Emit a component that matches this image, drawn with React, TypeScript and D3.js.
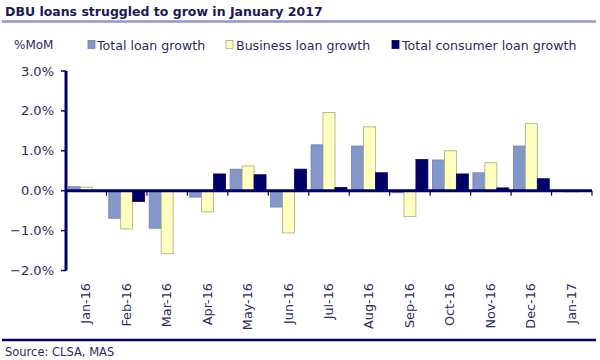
import React from "react";
import * as d3 from "d3";

const categories = ["Jan-16","Feb-16","Mar-16","Apr-16","May-16","Jun-16","Jul-16","Aug-16","Sep-16","Oct-16","Nov-16","Dec-16","Jan-17"];
const totalLoan = [0.10,-0.69,-0.94,-0.16,0.54,-0.41,1.15,1.12,-0.05,0.77,0.45,1.12,-0.01];
const businessLoan = [0.09,-0.96,-1.58,-0.53,0.62,-1.06,1.96,1.60,-0.65,1.00,0.70,1.68,-0.03];
const consumerLoan = [0.01,-0.27,0.0,0.42,0.40,0.54,0.08,0.45,0.78,0.42,0.07,0.30,0.0];
const seriesNames = ["Total loan growth","Business loan growth","Total consumer loan growth"];
const yTicks = [3,2,1,0,-1,-2];

const colors = ["#8497c9","#ffffc0","#000066"];
const strokes = ["#7080b8","#a8a880","#000066"];
const navy = "#000066";
const textColor = "#2a2a62";

export default function App() {
  const W = 600, H = 360;
  const x0 = 66, x1 = 592;
  const y = d3.scaleLinear().domain([-2, 3]).range([270.5, 71]);
  const x = d3.scaleBand<string>().domain(categories).range([x0, x1]).paddingInner(0).paddingOuter(0);
  const inner = d3.scaleBand<number>().domain([0,1,2]).range([0, x.bandwidth()]).paddingOuter(0.19).paddingInner(0);
  const series = [totalLoan, businessLoan, consumerLoan];
  const font = "'DejaVu Sans', Verdana, sans-serif";

  return (
    <svg width={W} height={H} style={{ position: "absolute", left: 0, top: 0, background: "#fff" }} fontFamily={font}>
      <text x={5} y={16} fontSize={12.5} fontWeight="bold" fill="#1a1a5a">DBU loans struggled to grow in January 2017</text>
      <line x1={2} x2={596} y1={21.5} y2={21.5} stroke="#8d97c8" strokeWidth={2.5} />
      <text x={14} y={49} fontSize={12} fill={textColor}>%MoM</text>
      {[{sx: 88, tx: 97}, {sx: 226, tx: 236}, {sx: 392, tx: 402}].map((p, i) => (
        <g key={i}>
          <rect x={p.sx} y={40.5} width={7} height={8} fill={colors[i]} stroke={strokes[i]} strokeWidth={0.8} />
          <text x={p.tx} y={49.5} fontSize={12.6} fill={textColor}>{seriesNames[i]}</text>
        </g>
      ))}
      {series.map((vals, si) => (
        <g key={si}>
          {vals.map((v, ci) => {
            const bx = (x(categories[ci]) as number) + (inner(si) as number);
            const top = y(Math.max(0, v));
            const h = Math.abs(y(v) - y(0));
            return <rect key={ci} x={bx} y={top} width={inner.bandwidth()} height={h} fill={colors[si]} stroke={strokes[si]} strokeWidth={0.8} />;
          })}
        </g>
      ))}
      {/* x axis */}
      <line x1={x0} x2={x1} y1={y(0)} y2={y(0)} stroke={navy} strokeWidth={3} />
      {categories.map((c, i) => (
        <line key={c} x1={(x(c) as number) + x.bandwidth()} x2={(x(c) as number) + x.bandwidth()} y1={y(0)} y2={y(0) + 5} stroke={navy} strokeWidth={1.2} />
      ))}
      {/* y axis */}
      <line x1={x0} x2={x0} y1={y(3)} y2={y(-2)} stroke={navy} strokeWidth={3} />
      {yTicks.map(t => (
        <g key={t}>
          <line x1={x0 - 5} x2={x0} y1={y(t)} y2={y(t)} stroke={navy} strokeWidth={1.5} />
          <text x={54} y={y(t) + 4.5} fontSize={13} textAnchor="end" fill={textColor}>{d3.format(".1f")(t) + "%"}</text>
        </g>
      ))}
      {categories.map(c => {
        const cx = (x(c) as number) + x.bandwidth() / 2;
        return <text key={c} transform={`translate(${cx + 4},283) rotate(-90)`} fontSize={12.8} textAnchor="end" fill={textColor}>{c}</text>;
      })}
      <line x1={2} x2={596} y1={340} y2={340} stroke={navy} strokeWidth={2.5} />
      <text x={5} y={356} fontSize={11.5} fill={textColor}>Source: CLSA, MAS</text>
    </svg>
  );
}
